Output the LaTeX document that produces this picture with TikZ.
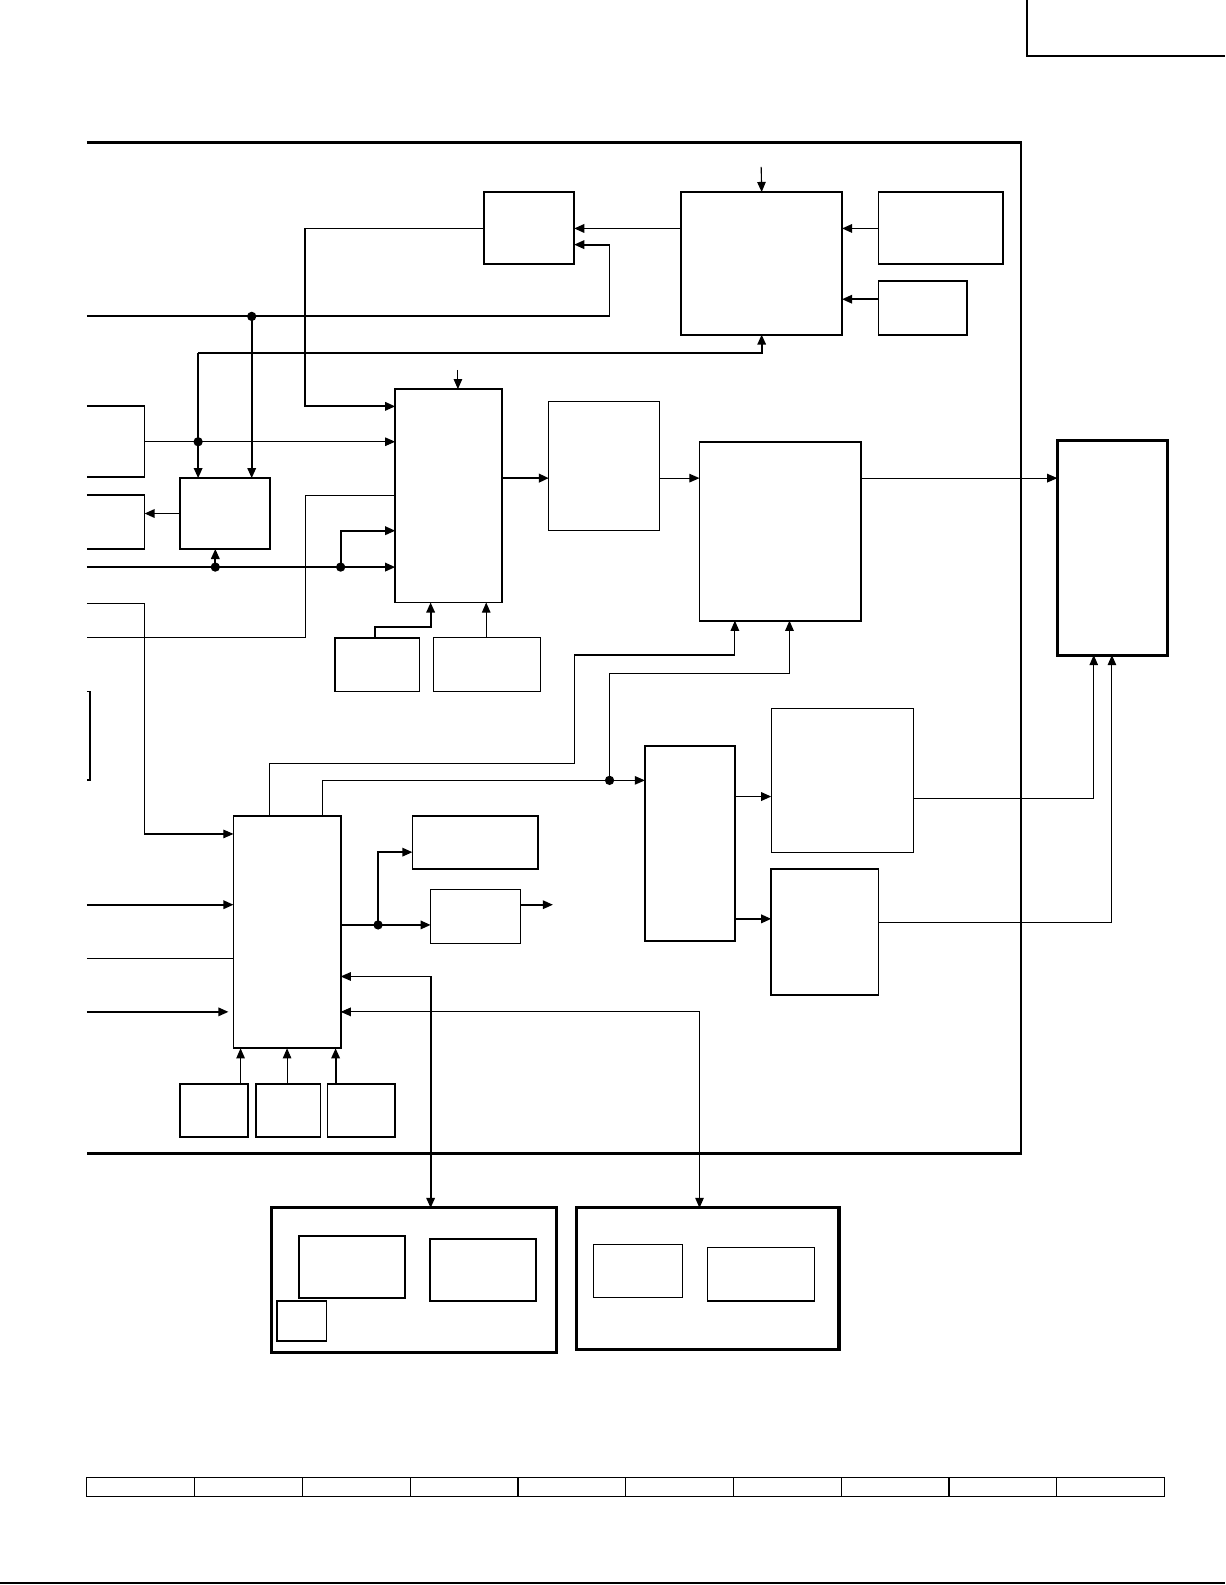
\documentclass[tikz,border=0pt]{standalone}
\usetikzlibrary{arrows.meta,calc}
\tikzset{
  blkbox/.style={draw, line width=0.9pt, inner sep=0pt, outer sep=0pt},
  thinbox/.style={line width=0.55pt},
  heavybox/.style={line width=1.5pt},
  ln/.style={line width=0.9pt},
  tn/.style={line width=0.55pt},
  hv/.style={line width=1.3pt},
  arr/.style={-{Triangle[length=5pt,width=4.2pt]}},
  dotmark/.style={fill=black},
}
\newcommand\blk[6][]{\node[blkbox,#1,minimum width={0.5pt*(#5-#3)},minimum height={0.5pt*(#6-#4)}] (#2) at ({(#3+#5)/2},{(#4+#6)/2}) {};}
\newcommand\jdot[1]{\fill[dotmark] (#1) circle[radius=2.3pt];}
\begin{document}
\begin{tikzpicture}[x=0.5pt,y=-0.5pt]
\useasboundingbox (0,0) rectangle (1212,1568);
% corner box and frame
\draw[ln] (1016,0) -- (1016,55) -- (1212,55);
\draw[line width=1.4pt] (86,141) -- (1010,141) -- (1010,1141) -- (86,1141);
% blocks
\blk{A}{479}{190}{568}{261}
\blk{C}{674}{190}{833}{331}
\blk{D}{869}{190}{992}{261}
\blk{E}{869}{278}{957}{331}
\blk{B}{391}{385}{497}{596}
\blk{F}{178}{473}{267}{543}
\blk[thinbox]{H}{543}{397}{652}{525}
\blk{I}{692}{437}{852}{614}
\blk[heavybox]{J}{1046}{436}{1155}{648}
\blk{K}{331}{631}{415}{684}
\blk[thinbox]{L}{429}{631}{535}{684}
\blk{G}{231}{807}{337}{1037}
\blk{M}{638}{738}{727}{931}
\blk[thinbox]{N}{763}{701}{904}{843}
\blk{O}{763}{860}{869}{984}
\blk{P}{408}{807}{532}{860}
\blk[thinbox]{Q}{426}{880}{515}{933}
\blk{T1}{178}{1072}{245}{1125}
\blk{T2}{253}{1072}{317}{1125}
\blk{T3}{324}{1072}{391}{1125}
\blk[heavybox]{R}{269}{1195}{551}{1338}
\blk{R1}{296}{1223}{401}{1284}
\blk{R2}{425}{1226}{530}{1287}
\blk{R3}{274}{1287}{323}{1327}
\blk[heavybox]{S}{570}{1195}{830}{1335}
\blk[thinbox]{S1}{587}{1231}{675}{1284}
\blk[thinbox]{S2}{700}{1234}{806}{1287}
% coordinates
\coordinate (ct) at (753,165);
\coordinate (bt) at (453,366);
\coordinate (in1) at (86,313);
\coordinate (k1) at (196,349);
\coordinate (d1) at (249,313);
\coordinate (d2) at (196,437);
\coordinate (d3) at (213,561);
\coordinate (d4) at (337,561);
\coordinate (d5) at (603,772);
\coordinate (d6) at (374,915);
\coordinate (qo) at (547,895);
\coordinate (gi) at (226,1001);
\coordinate (br1) at (426,966);
\coordinate (br2) at (692,1001);
% top connectors
\draw[tn,arr] (ct) -- (C.north);
\draw[ln,arr] (C.west |- 0,226) -- (A.east |- 0,226);
\draw[ln,arr] (A.west |- 0,226) -- (302,226) -- (302,402) -- (B.west |- 0,402);
\draw[ln,arr] (D.west |- 0,226) -- (C.east |- 0,226);
\draw[ln,arr] (E.west |- 0,296) -- (C.east |- 0,296);
\draw[ln,arr] (in1) -- (603,313) -- (603,242) -- (A.east |- 0,242);
\draw[ln,arr] (d1) -- (F.north -| d1);
\draw[ln,arr] (k1) -- (C.south |- k1) -- (C.south);
\draw[ln,arr] (k1) -- (F.north -| k1);
% left side
\draw[ln] (86,402) -- (143,402) -- (143,472) -- (86,472);
\draw[tn,arr] (143,437) -- (B.west |- 0,437);
\draw[ln,arr] (F.west) -- (143,508);
\draw[ln] (86,490) -- (143,490) -- (143,543) -- (86,543);
\draw[ln,arr] (86,561) -- (B.west |- 0,561);
\draw[ln,arr] (d3) -- (F.south -| d3);
\draw[ln,arr] (d4) -- (337,525) -- (B.west |- 0,525);
\draw[tn] (B.west |- 0,490) -- (302,490) -- (302,631) -- (86,631);
\draw[tn,arr] (86,597) -- (143,597) -- (143,825) -- (G.west |- 0,825);
\draw[tn,arr] (bt) -- (B.north -| bt);
\draw[ln] (86,684) -- (89,684) -- (89,772) -- (86,772);
% main chain
\draw[hv,arr] (B.east |- 0,473) -- (H.west |- 0,473);
\draw[tn,arr] (H.east |- 0,473) -- (I.west |- 0,473);
\draw[tn,arr] (I.east |- 0,473) -- (J.west |- 0,473);
\draw[ln,arr] (K.north -| 371,0) -- (371,620) -- (426,620) -- (B.south -| 426,0);
\draw[tn,arr] (L.north -| 481,0) -- (B.south -| 481,0);
% G connections
\draw[tn,arr] (G.north -| 267,0) -- (267,755) -- (568,755) -- (568,648) -- (727,648) -- (I.south -| 727,0);
\draw[tn,arr] (G.north -| 319,0) -- (319,772) -- (M.west |- 0,772);
\draw[tn,arr] (d5) -- (603,666) -- (781,666) -- (I.south -| 781,0);
\draw[ln,arr] (M.east |- 0,788) -- (N.west |- 0,788);
\draw[ln,arr] (M.east |- 0,909) -- (O.west |- 0,909);
\draw[tn,arr] (N.east |- 0,790) -- (1082,790) -- (J.south -| 1082,0);
\draw[tn,arr] (O.east |- 0,913) -- (1100,913) -- (J.south -| 1100,0);
\draw[ln,arr] (G.east |- 0,915) -- (Q.west |- 0,915);
\draw[ln,arr] (d6) -- (374,843) -- (P.west |- 0,843);
\draw[ln,arr] (Q.east |- qo) -- (qo);
\draw[ln,arr] (86,895) -- (G.west |- 0,895);
\draw[tn] (86,948) -- (G.west |- 0,948);
\draw[ln,arr] (86,1001) -- (gi);
\draw[tn,arr] (br1) -- (G.east |- br1);
\draw[ln,arr] (br1) -- (R.north -| br1);
\draw[tn,arr] (br2) -- (G.east |- br2);
\draw[tn,arr] (br2) -- (S.north -| br2);
\draw[tn,arr] (T1.north -| 238,0) -- (G.south -| 238,0);
\draw[tn,arr] (T2.north -| 284,0) -- (G.south -| 284,0);
\draw[ln,arr] (T3.north -| 332,0) -- (G.south -| 332,0);
% junction dots
\jdot{d1}\jdot{d2}\jdot{d3}\jdot{d4}\jdot{d5}\jdot{d6}
% bottom table
\draw[tn] (86,1462) rectangle (1152,1480);
\foreach \i in {1,...,9} {\draw[tn] ({86+106.6*\i},1462) -- ({86+106.6*\i},1480);}
\draw[line width=1pt] (0,1566) -- (1212,1566);
\end{tikzpicture}
\end{document}
